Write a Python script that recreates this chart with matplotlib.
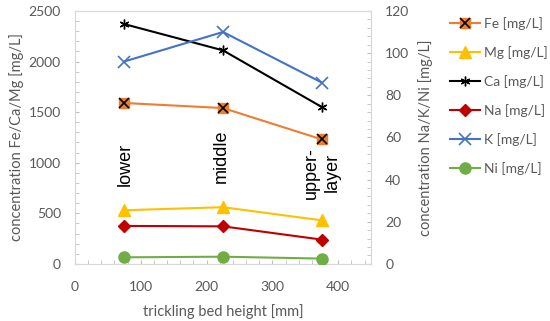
import matplotlib
matplotlib.use("Agg")
import matplotlib.pyplot as plt
from matplotlib.lines import Line2D
from matplotlib.ticker import MultipleLocator

plt.rcParams['font.family'] = ['Lato', 'DejaVu Sans']

height = [75, 225, 375]
fe = [1590, 1540, 1230]
mg = [530, 560, 430]
ca = [2370, 2110, 1550]
na = [18.0, 17.8, 11.5]
k = [96, 110, 86]
ni = [3.1, 3.4, 2.5]
layer_labels = ["lower", "middle", "upper-\nlayer"]
layer_x = [76, 222, 375]
layer_y = [765, 800, 645]

gray = "#595959"
fig = plt.figure(figsize=(5.5, 3.21), dpi=100)
ax = fig.add_axes([0.136, 0.178, 0.539, 0.788])
ax2 = ax.twinx()

c_fe, c_mg, c_ca, c_na, c_k, c_ni = "#ED7D31", "#FFC000", "#000000", "#C00000", "#4472C4", "#70AD47"
asterisk = (6, 2, 0)

ax.plot(height, fe, color=c_fe, lw=1.5, marker='s', ms=7, mfc=c_fe, mec=c_fe, zorder=3)
ax.plot(height, fe, ls='none', marker='x', ms=7, mec='black', mew=1.2, zorder=4)
ax.plot(height, mg, color=c_mg, lw=1.5, marker='^', ms=8, mfc=c_mg, mec=c_mg, zorder=3)
ax.plot(height, ca, color=c_ca, lw=1.5, marker=asterisk, ms=7, mec=c_ca, mew=1.0, zorder=3)
ax2.plot(height, na, color=c_na, lw=1.5, marker='D', ms=6, mfc=c_na, mec=c_na, zorder=3)
ax2.plot(height, k, color=c_k, lw=1.5, marker='x', ms=8, mec=c_k, mew=1.2, zorder=3)
ax2.plot(height, ni, color=c_ni, lw=1.5, marker='o', ms=8, mfc=c_ni, mec=c_ni, zorder=3)

for lab, x, y in zip(layer_labels, layer_x, layer_y):
    ax.text(x, y, lab, rotation=90, ha='center', va='bottom', multialignment='center',
            fontsize=13, color='black', linespacing=1.25,
            fontfamily=['Liberation Sans', 'DejaVu Sans'])

ax.set_xlim(0, 450)
ax.set_ylim(0, 2500)
ax2.set_ylim(0, 120)
ax.xaxis.set_major_locator(MultipleLocator(100))
ax.xaxis.set_minor_locator(MultipleLocator(20))
ax.yaxis.set_major_locator(MultipleLocator(500))
ax.yaxis.set_minor_locator(MultipleLocator(100))
ax2.yaxis.set_major_locator(MultipleLocator(20))
ax2.yaxis.set_minor_locator(MultipleLocator(4))

ax.set_xticks([0, 100, 200, 300, 400])
for a in (ax, ax2):
    a.tick_params(which='both', direction='in', color='#BFBFBF', labelcolor=gray, labelsize=10)
    a.tick_params(which='major', length=3)
    a.tick_params(which='minor', length=3)
    for s in a.spines.values():
        s.set_color('#D9D9D9')
ax.tick_params(axis='x', which='major', pad=12)
ax.tick_params(axis='y', which='major', pad=10)
ax2.tick_params(axis='y', which='major', pad=10)

ax.set_xlabel("trickling bed height [mm]", color=gray, fontsize=10.5, labelpad=8)
ax.set_ylabel("concentration Fe/Ca/Mg [mg/L]", color=gray, fontsize=10.5, labelpad=3)
ax2.set_ylabel("concentration Na/K/Ni [mg/L]", color=gray, fontsize=10.5, labelpad=6)

h_fe = (Line2D([], [], color=c_fe, lw=1.5, marker='s', ms=7, mfc=c_fe, mec=c_fe),
        Line2D([], [], ls='none', marker='x', ms=7, mec='black', mew=1.2))
h_mg = Line2D([], [], color=c_mg, lw=1.5, marker='^', ms=8, mfc=c_mg, mec=c_mg)
h_ca = Line2D([], [], color=c_ca, lw=1.5, marker=asterisk, ms=7, mec=c_ca, mew=1.0)
h_na = Line2D([], [], color=c_na, lw=1.5, marker='D', ms=6, mfc=c_na, mec=c_na)
h_k = Line2D([], [], color=c_k, lw=1.5, marker='x', ms=8, mec=c_k, mew=1.2)
h_ni = Line2D([], [], color=c_ni, lw=1.5, marker='o', ms=8, mfc=c_ni, mec=c_ni)
fig.legend([h_fe, h_mg, h_ca, h_na, h_k, h_ni],
           ["Fe [mg/L]", "Mg [mg/L]", "Ca [mg/L]", "Na [mg/L]", "K [mg/L]", "Ni [mg/L]"],
           loc='upper left', bbox_to_anchor=(0.795, 0.985), frameon=False, fontsize=10,
           labelcolor=gray, handlelength=2.2, handletextpad=0.3, labelspacing=1.15)

fig.savefig("out.png", dpi=100)
